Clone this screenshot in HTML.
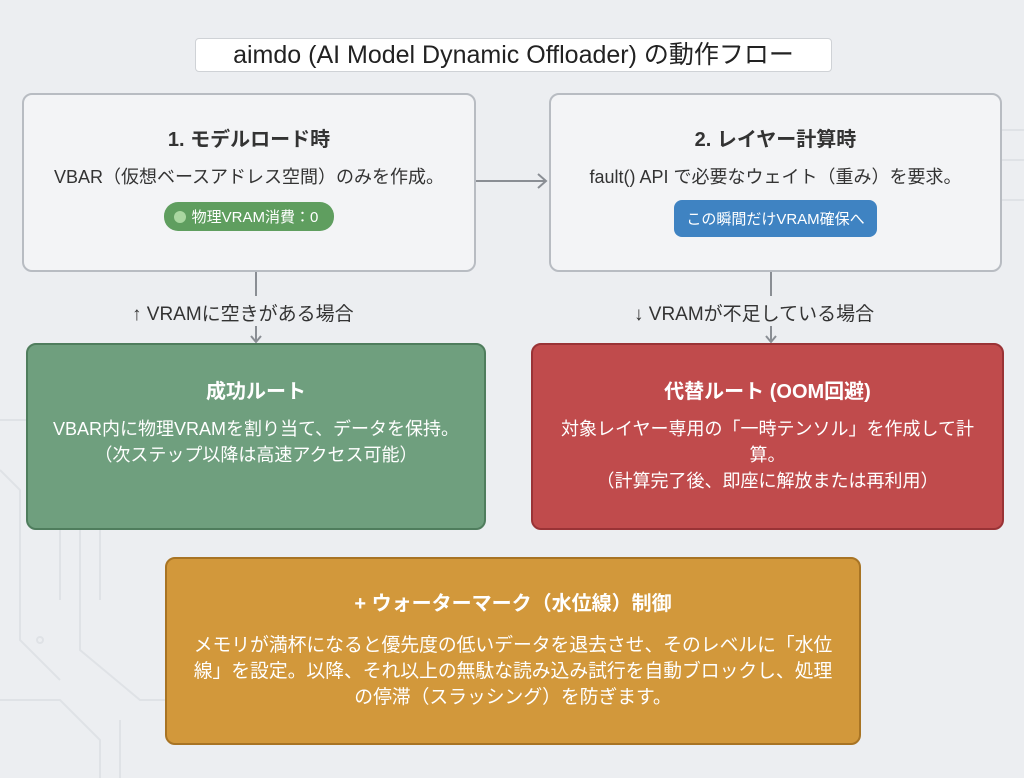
<!DOCTYPE html>
<html><head><meta charset="utf-8"><style>
body{margin:0;width:1024px;height:778px;background:#eceef1;font-family:"Liberation Sans","Noto Sans CJK JP",sans-serif;position:relative;overflow:hidden;color:#333}
.b{position:absolute;box-sizing:border-box;border-radius:10px;text-align:center}
.w{background:#f3f4f6;border:2px solid #b8bcc2}
.t{font-weight:bold;font-size:20px}
.p{font-size:18px;line-height:26px}
.lbl{position:absolute;font-size:19px;color:#333}
</style></head><body>
<svg width="1024" height="778" style="position:absolute;left:0;top:0">
<g stroke="#dfe2e6" fill="none" stroke-width="2">
<path d="M0 420 L40 420 L60 440 L60 600"/><path d="M0 470 L20 490 L20 640 L60 680"/>
<path d="M80 530 L80 650 L140 700 L165 700"/><path d="M100 530 L100 600"/>
<path d="M0 700 L60 700 L100 740 L100 778"/><path d="M120 720 L120 778"/>
<path d="M1002 130 L1024 130"/><path d="M1002 160 L1024 160"/><path d="M1002 200 L1024 200"/>
<circle cx="40" cy="640" r="3"/>
</g>
<g stroke="#8a8e94" stroke-width="2" fill="none">
<path d="M476 181 L546 181"/><path d="M538 174 L546 181 L538 188"/>
<path d="M256 272 L256 296"/><path d="M256 326 L256 342"/><path d="M251 336 L256 342 L261 336"/>
<path d="M771 272 L771 296"/><path d="M771 326 L771 342"/><path d="M766 336 L771 342 L776 336"/>
</g>
</svg>
<div class="b" style="left:195px;top:38px;width:637px;height:34px;background:#fff;border:1px solid #cfd2d6;border-radius:4px;font-size:25px;line-height:32px;color:#222">aimdo (AI Model Dynamic Offloader) の動作フロー</div>
<div class="b w" style="left:22px;top:93px;width:454px;height:179px">
<div class="t" style="margin-top:28px">1. モデルロード時</div>
<div class="p" style="margin-top:12px">VBAR（仮想ベースアドレス空間）のみを作成。</div>
<div style="display:inline-block;margin-top:12px;background:#5f9e5f;color:#fff;border-radius:14px;padding:4px 16px 4px 10px;font-size:15px"><span style="display:inline-block;width:12px;height:12px;border-radius:50%;background:#a9d7a0;vertical-align:-1px;margin-right:6px"></span>物理VRAM消費：0</div>
</div>
<div class="b w" style="left:549px;top:93px;width:453px;height:179px">
<div class="t" style="margin-top:28px">2. レイヤー計算時</div>
<div class="p" style="margin-top:12px">fault() API で必要なウェイト（重み）を要求。</div>
<div style="display:inline-block;margin-top:10px;background:#3f83c2;color:#fff;border-radius:8px;padding:8px 12px;font-size:15px">この瞬間だけVRAM確保へ</div>
</div>
<div class="lbl" style="left:132px;top:299px">↑ VRAMに空きがある場合</div>
<div class="lbl" style="left:634px;top:299px">↓ VRAMが不足している場合</div>
<div class="b" style="left:26px;top:343px;width:460px;height:187px;background:#6f9f7e;border:2px solid #4f7d5d;color:#fff">
<div class="t" style="margin-top:30px">成功ルート</div>
<div class="p" style="margin-top:12px">VBAR内に物理VRAMを割り当て、データを保持。<br>（次ステップ以降は高速アクセス可能）</div>
</div>
<div class="b" style="left:531px;top:343px;width:473px;height:187px;background:#c04b4c;border:2px solid #9a3336;color:#fff">
<div class="t" style="margin-top:30px">代替ルート (OOM回避)</div>
<div class="p" style="margin-top:12px;padding:0 16px">対象レイヤー専用の「一時テンソル」を作成して計算。<br>（計算完了後、即座に解放または再利用）</div>
</div>
<div class="b" style="left:165px;top:557px;width:696px;height:188px;background:#d2983b;border:2px solid #a87424;color:#fff">
<div class="t" style="margin-top:28px">+ ウォーターマーク（水位線）制御</div>
<div class="p" style="margin-top:16px;padding:0 23px;font-size:18.8px">メモリが満杯になると優先度の低いデータを退去させ、そのレベルに「水位線」を設定。以降、それ以上の無駄な読み込み試行を自動ブロックし、処理の停滞（スラッシング）を防ぎます。</div>
</div>
</body></html>
